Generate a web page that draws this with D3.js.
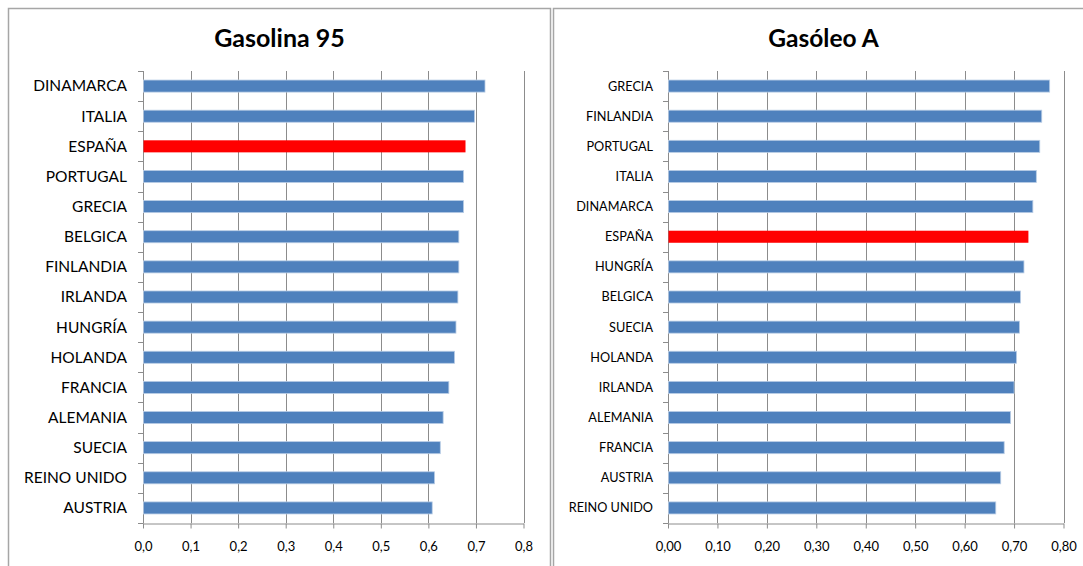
<!DOCTYPE html>
<html><head><meta charset="utf-8">
<script src="https://cdn.jsdelivr.net/npm/d3@7"></script>
<style>
html,body{margin:0;padding:0;background:#fff;}
svg{display:block;font-family:Lato, "Open Sans", sans-serif;}
</style></head>
<body>
<svg id="chart" width="1083" height="566"></svg>
<script>
// ---- data ----
const gasolinaCountries = ["DINAMARCA","ITALIA","ESPAÑA","PORTUGAL","GRECIA","BELGICA","FINLANDIA","IRLANDA","HUNGRÍA","HOLANDA","FRANCIA","ALEMANIA","SUECIA","REINO UNIDO","AUSTRIA"];
const gasolinaValues = [0.718,0.696,0.677,0.673,0.673,0.663,0.663,0.661,0.657,0.654,0.642,0.630,0.624,0.612,0.607];
const gasoleoCountries = ["GRECIA","FINLANDIA","PORTUGAL","ITALIA","DINAMARCA","ESPAÑA","HUNGRÍA","BELGICA","SUECIA","HOLANDA","IRLANDA","ALEMANIA","FRANCIA","AUSTRIA","REINO UNIDO"];
const gasoleoValues = [0.771,0.755,0.751,0.744,0.737,0.728,0.719,0.712,0.710,0.704,0.699,0.692,0.679,0.672,0.662];
const gasolinaTicks = [0,0.1,0.2,0.3,0.4,0.5,0.6,0.7,0.8];
const gasoleoTicks = [0,0.1,0.2,0.3,0.4,0.5,0.6,0.7,0.8];
const highlight = "ESPAÑA";

const svg = d3.select("#chart");

function panel(opt){
  const g = svg.append("g");
  // border
  g.append("rect").attr("x",opt.bx).attr("y",opt.by).attr("width",opt.bw).attr("height",opt.bh)
    .attr("fill","#fff").attr("stroke","#a6a6a6").attr("stroke-width",1.5);
  g.append("text").attr("x",opt.titleX).attr("y",47).attr("text-anchor","middle")
    .attr("font-weight","bold").attr("font-size",opt.titleSize).attr("fill","#000").text(opt.title);

  const x = d3.scaleLinear().domain([0,0.8]).range([opt.x0,opt.x1]);
  const y = d3.scaleBand().domain(opt.cats).range([opt.top,opt.bottom]).paddingInner(0.6).paddingOuter(0.3);
  const yb = d3.scaleBand().domain(opt.cats).range([opt.top,opt.bottom]);

  // gridlines
  g.append("g").selectAll("line").data(opt.ticks.slice(1)).join("line")
    .attr("x1",d=>Math.round(x(d))+0.5).attr("x2",d=>Math.round(x(d))+0.5)
    .attr("y1",opt.top).attr("y2",opt.bottom)
    .attr("stroke","#8c8c8c").attr("stroke-width",1);

  // x axis
  const xa = g.append("g").attr("transform",`translate(0,${Math.round(opt.bottom)+0.5})`)
    .call(d3.axisBottom(x).tickValues(opt.ticks).tickSize(5).tickSizeOuter(0).tickPadding(13)
      .tickFormat(d=>d3.format(opt.fmt)(d).replace(".",",")));
  xa.select(".domain").attr("stroke","#8c8c8c");
  xa.selectAll(".tick line").attr("stroke","#8c8c8c");
  xa.selectAll(".tick text").attr("font-size",opt.tickSize).attr("fill","#000")
    .attr("font-family","Lato, 'Open Sans', sans-serif");

  // y axis: line + boundary ticks
  g.append("line").attr("x1",Math.round(opt.x0)+0.5).attr("x2",Math.round(opt.x0)+0.5)
    .attr("y1",opt.top).attr("y2",opt.bottom).attr("stroke","#8c8c8c");
  const bounds = opt.cats.map(c=>yb(c)).concat([opt.bottom]);
  g.append("g").selectAll("line").data(bounds).join("line")
    .attr("x1",Math.round(opt.x0)-5).attr("x2",Math.round(opt.x0)+0.5)
    .attr("y1",d=>Math.round(d)+0.5).attr("y2",d=>Math.round(d)+0.5)
    .attr("stroke","#8c8c8c");
  g.append("g").selectAll("text").data(opt.cats).join("text")
    .attr("x",opt.labelX).attr("y",d=>yb(d)+yb.bandwidth()/2).attr("dy","0.35em")
    .attr("text-anchor","end").attr("font-size",opt.labelSize).attr("fill","#000").text(d=>d);

  // bars
  g.append("g").selectAll("rect").data(opt.cats.map((c,i)=>({c,v:opt.vals[i]}))).join("rect")
    .attr("x",x(0)+0.5).attr("y",d=>y(d.c)).attr("width",d=>x(d.v)-x(0)).attr("height",y.bandwidth())
    .attr("fill",d=>d.c===highlight?"#ff0000":"#4f81bd")
    .attr("stroke",d=>d.c===highlight?"none":"#b9cde5").attr("stroke-width",0.8);
}

panel({bx:8.5,by:8.5,bw:542,bh:600,title:"Gasolina 95",titleX:279.5,titleSize:25,
  cats:gasolinaCountries,vals:gasolinaValues,ticks:gasolinaTicks,fmt:".1f",
  x0:143,x1:523.5,top:71,bottom:523,labelX:127,labelSize:15.5,tickSize:13});
panel({bx:553.5,by:8.5,bw:560,bh:600,title:"Gasóleo A",titleX:823.5,titleSize:24.5,
  cats:gasoleoCountries,vals:gasoleoValues,ticks:gasoleoTicks,fmt:".2f",
  x0:668,x1:1063.5,top:71,bottom:523,labelX:653,labelSize:12.7,tickSize:13});
</script>
</body></html>
